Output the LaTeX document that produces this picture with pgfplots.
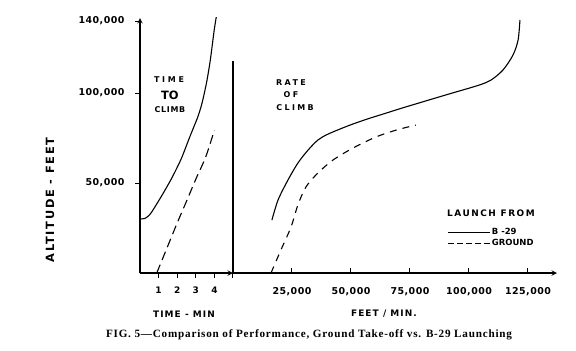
\documentclass[border=0pt]{standalone}
\usepackage{fontspec}
\usepackage{pgfplots}
\pgfplotsset{compat=1.18}
\newfontfamily\dv[LetterSpace=5]{DejaVu Sans}
\newfontfamily\dvb[LetterSpace=12]{DejaVu Sans}
\newfontfamily\dvc[LetterSpace=17]{DejaVu Sans}
\newfontfamily\dvd[LetterSpace=30]{DejaVu Sans}
\newfontfamily\dve[LetterSpace=34]{DejaVu Sans}
\newfontfamily\dvf[LetterSpace=9]{DejaVu Sans}
\newfontfamily\dvy[LetterSpace=15]{DejaVu Sans}
\newfontfamily\dvz{DejaVu Sans}
\newfontfamily\capfont[LetterSpace=7]{Liberation Serif}
\newcommand\fs[1]{\fontsize{#1}{#1}\selectfont}

\begin{document}
\begin{tikzpicture}
\useasboundingbox (0,0) rectangle (576bp,-351bp);
\pgfplotsset{
  myax/.style={scale only axis, ymin=0, ymax=141700, height=255bp, clip=false, scaled ticks=false,
    axis line style={line width=1.4bp}, x axis line style={-}, y axis line style={-},
    major tick length=5bp, tick style={line width=1bp, black},
    yticklabel style={font=\dv\bfseries\fs{9.5}, xshift=-7bp},
  },
}
\begin{axis}[myax, at={(140bp,-273bp)}, anchor=south west, width=93bp, xmin=0, xmax=5,
  axis x line=bottom, axis y line=left, tick align=outside,
  xticklabel style={font=\dv\bfseries\fs{9}, yshift=-5.5bp},
  xtick={1,2,3,4,5}, xticklabels={1,2,3,4,{}},
  ytick={50000,100000,140000}, yticklabels={{50,000},{100,000},{140,000}}]
\addplot[black, line width=1.1bp, smooth, tension=0.45] coordinates {
(0,30000) (0.26,30300) (0.45,31700) (0.63,33900) (1.16,42800) (1.68,52200) (2.21,63300) (2.63,74400) (2.87,80600) (3.1,86500) (3.3,93000) (3.45,99500) (3.6,107000) (3.78,118300) (3.99,135000) (4.1,142200)};
\addplot[black, line width=1.1bp, dash pattern=on 9bp off 5bp, smooth] coordinates {
(0.9,0) (1.47,14400) (2.0,27800) (2.53,40600) (3.05,53300) (3.53,64400) (4.0,79400)};
\addplot[black, line width=1.5bp] coordinates {(5,0) (5,118000)};
\node[font=\dve\bfseries\fs{8}] at (axis cs:1.56,107200) {TIME};
\node[font=\dvz\bfseries\fs{11.5}] at (axis cs:1.61,98900) {TO};
\node[font=\dvf\bfseries\fs{8}] at (axis cs:1.61,90600) {CLIMB};
\node[font=\dvb\bfseries\fs{9}] at (axis description cs:0.473,-0.161) {TIME - MIN};
\node[font=\dvy\bfseries\fs{11.4}, rotate=90] at (axis description cs:-0.968,0.2866) {ALTITUDE - FEET};
\end{axis}
\begin{axis}[myax, at={(233bp,-273bp)}, anchor=south west, width=324bp, xmin=0, xmax=137300,
  axis x line=bottom, axis y line=none, tick align=inside,
  xticklabel style={font=\dv\bfseries\fs{9.5}, yshift=-11bp},
  xtick={25000,50000,75000,100000,125000},
  xticklabels={{25,000},{50,000},{75,000},{100,000},{125,000}},
  legend style={draw=none, fill=none, at={(axis description cs:0.663,0.18)}, anchor=north west,
    inner sep=0pt, row sep=1bp, font=\dvz\bfseries\fs{8.5}, nodes={inner sep=1bp}},
  legend cell align=left,
  legend image code/.code={\draw (0bp,0bp) -- (42bp,0bp);}]
\addlegendimage{black, line width=0.9bp}
\addlegendentry{B -29}
\addlegendimage{black, line width=0.9bp, dash pattern=on 6bp off 3bp}
\addlegendentry{GROUND}
\addplot[black, line width=1.1bp, smooth, forget plot] coordinates {
(16500,29400) (19100,40600) (23300,51700) (27500,61100) (31800,68300) (36000,73900) (40300,77200) (49200,82000) (57000,85600) (65000,88900) (73000,92200) (91100,99300) (104000,104300) (109300,107200) (114400,112800) (118600,121000) (120800,129400) (121600,140600)};
\addplot[black, line width=1.1bp, dash pattern=on 7bp off 6bp, smooth, forget plot] coordinates {
(16100,0) (20300,12800) (24600,25600) (27500,37800) (30900,47800) (36000,55600) (42400,62800) (50800,69400) (60600,75600) (69100,79400) (77500,82200)};
\node[font=\dvd\bfseries\fs{8}] at (axis cs:24600,105600) {RATE};
\node[font=\dvd\bfseries\fs{8}] at (axis cs:24600,98900) {OF};
\node[font=\dvd\bfseries\fs{8}] at (axis cs:26300,91700) {CLIMB};
\node[font=\dvc\bfseries\fs{9}] at (axis cs:109300,33300) {LAUNCH FROM};
\node[font=\dvb\bfseries\fs{9}] at (axis description cs:0.466,-0.161) {FEET / MIN.};
\node[font=\capfont\bfseries\fs{11.2}] at (axis description cs:0.2346,-0.243) {FIG. 5—Comparison of Performance, Ground Take-off vs. B-29 Launching};
\end{axis}
\end{tikzpicture}
\end{document}
